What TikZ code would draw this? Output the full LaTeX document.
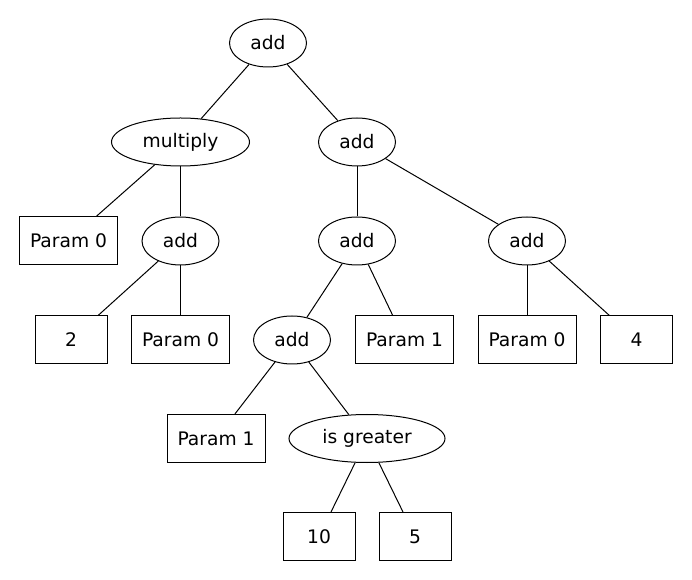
\documentclass[tikz,border=0pt]{standalone}
\usepackage{fontspec}
\setmainfont{DejaVu Sans}
\usetikzlibrary{shapes.geometric}
\begin{document}
\begin{tikzpicture}[x=0.75pt,y=-0.75pt,
  every node/.style={font=\fontsize{14}{16}\selectfont, inner sep=0pt, line width=0.75pt},
  op/.style={draw, ellipse, minimum width=57.75pt, minimum height=36pt},
  leaf/.style={draw, rectangle, minimum width=73.5pt, minimum height=36pt},
  num/.style={draw, rectangle, minimum width=54pt, minimum height=36pt},
  edge/.style={line width=0.75pt}]
\useasboundingbox (0,0) rectangle (692,580);
% operators
\node[op] (root) at (268,43) {add};
\node[op, minimum width=103.5pt] (mul) at (180.5,142) {multiply};
\node[op] (addR) at (357,142) {add};
\node[op] (addM) at (180.5,241) {add};
\node[op] (addMid) at (357,241) {add};
\node[op] (addRR) at (527,241) {add};
\node[op] (add3) at (292,340) {add};
\node[op, minimum width=117pt] (isg) at (367,438.5) {is greater};
% leaves
\node[leaf] (p0a) at (68.5,241) {Param 0};
\node[num] (n2) at (71,340) {2};
\node[leaf] (p0b) at (180.5,340) {Param 0};
\node[leaf] (p1a) at (404.5,340) {Param 1};
\node[leaf] (p0c) at (527,340) {Param 0};
\node[num] (n4) at (636.5,340) {4};
\node[leaf] (p1b) at (216,438.5) {Param 1};
\node[num] (n10) at (319,536.5) {10};
\node[num] (n5) at (415,536.5) {5};
% connectors
\draw[edge] (root) -- (mul);
\draw[edge] (root) -- (addR);
\draw[edge] (mul) -- (p0a);
\draw[edge] (mul) -- (addM);
\draw[edge] (addM) -- (n2);
\draw[edge] (addM) -- (p0b);
\draw[edge] (addR) -- (addMid);
\draw[edge] (addR) -- (addRR);
\draw[edge] (addMid) -- (add3);
\draw[edge] (addMid) -- (p1a);
\draw[edge] (addRR) -- (p0c);
\draw[edge] (addRR) -- (n4);
\draw[edge] (add3) -- (p1b);
\draw[edge] (add3) -- (isg);
\draw[edge] (isg) -- (n10);
\draw[edge] (isg) -- (n5);
\end{tikzpicture}
\end{document}
